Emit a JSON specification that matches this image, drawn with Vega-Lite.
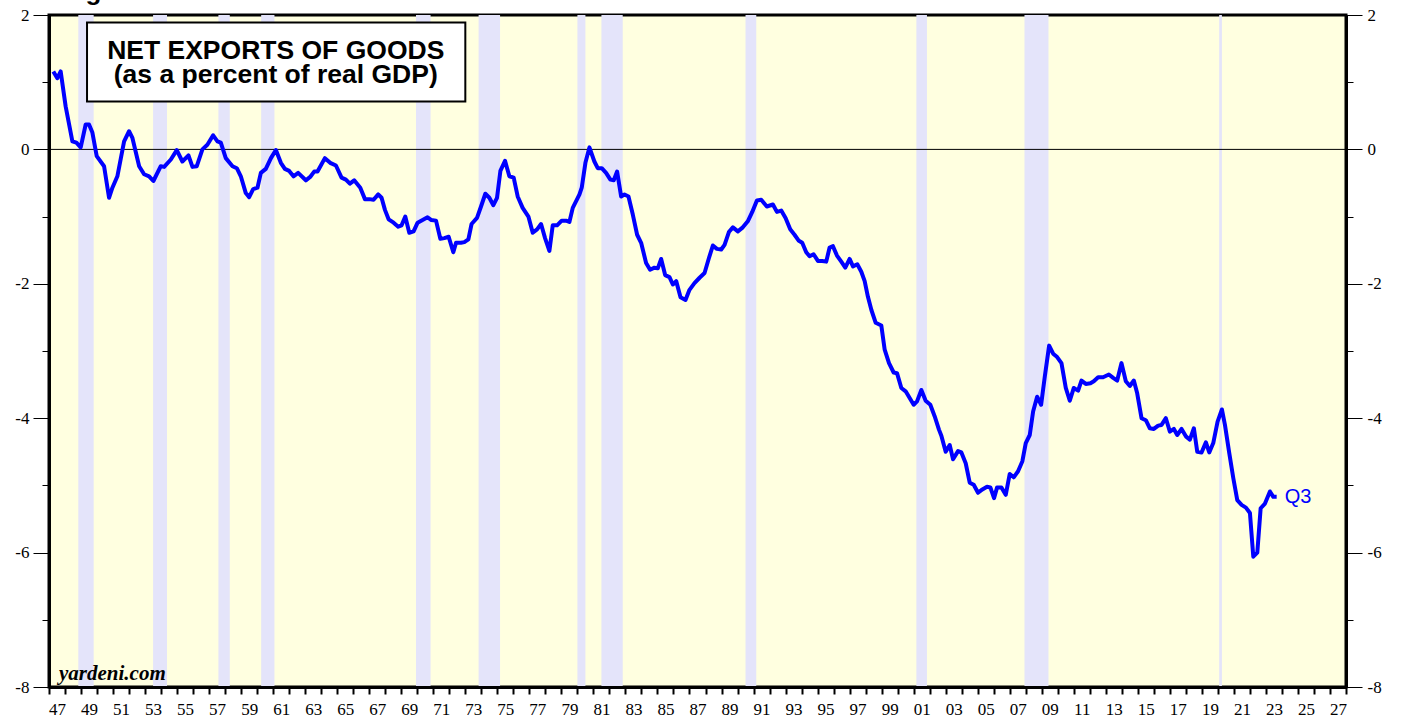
{
  "$schema": "https://vega.github.io/schema/vega-lite/v6.json",
  "autosize": "none",
  "width": 1297,
  "height": 672,
  "padding": {"left": 49, "top": 15, "right": 59, "bottom": 32},
  "background": "white",
  "config": {
    "view": {"fill": "#ffffe0", "stroke": "black", "strokeWidth": 3}
  },
  "datasets": {
    "rec": [
      {"s": 1948.83, "e": 1949.79},
      {"s": 1953.5, "e": 1954.37},
      {"s": 1957.58, "e": 1958.29},
      {"s": 1960.25, "e": 1961.08},
      {"s": 1969.92, "e": 1970.83},
      {"s": 1973.83, "e": 1975.17},
      {"s": 1980.0, "e": 1980.5},
      {"s": 1981.5, "e": 1982.83},
      {"s": 1990.5, "e": 1991.17},
      {"s": 2001.17, "e": 2001.83},
      {"s": 2007.92, "e": 2009.42},
      {"s": 2020.08, "e": 2020.25}
    ],
    "nx": [
      {"t": 1947.27, "v": 1.16}, {"t": 1947.52, "v": 1.06}, {"t": 1947.73, "v": 1.16}, {"t": 1948.04, "v": 0.64},
      {"t": 1948.46, "v": 0.12}, {"t": 1948.71, "v": 0.1}, {"t": 1948.98, "v": 0.03}, {"t": 1949.29, "v": 0.37},
      {"t": 1949.5, "v": 0.37}, {"t": 1949.71, "v": 0.25}, {"t": 1949.98, "v": -0.1}, {"t": 1950.44, "v": -0.25},
      {"t": 1950.75, "v": -0.72}, {"t": 1950.96, "v": -0.57}, {"t": 1951.27, "v": -0.4}, {"t": 1951.69, "v": 0.12},
      {"t": 1952.0, "v": 0.27}, {"t": 1952.21, "v": 0.17}, {"t": 1952.63, "v": -0.25}, {"t": 1952.94, "v": -0.37},
      {"t": 1953.25, "v": -0.4}, {"t": 1953.52, "v": -0.47}, {"t": 1953.98, "v": -0.25}, {"t": 1954.19, "v": -0.26},
      {"t": 1954.61, "v": -0.15}, {"t": 1954.98, "v": -0.01}, {"t": 1955.33, "v": -0.18}, {"t": 1955.71, "v": -0.09},
      {"t": 1955.96, "v": -0.26}, {"t": 1956.23, "v": -0.25}, {"t": 1956.58, "v": 0.0}, {"t": 1956.89, "v": 0.07},
      {"t": 1957.25, "v": 0.21}, {"t": 1957.52, "v": 0.12}, {"t": 1957.73, "v": 0.1}, {"t": 1958.04, "v": -0.13},
      {"t": 1958.46, "v": -0.25}, {"t": 1958.73, "v": -0.28}, {"t": 1958.98, "v": -0.4}, {"t": 1959.29, "v": -0.65},
      {"t": 1959.5, "v": -0.71}, {"t": 1959.75, "v": -0.59}, {"t": 1960.02, "v": -0.57}, {"t": 1960.23, "v": -0.35},
      {"t": 1960.54, "v": -0.29}, {"t": 1960.86, "v": -0.13}, {"t": 1961.17, "v": -0.01}, {"t": 1961.48, "v": -0.2},
      {"t": 1961.73, "v": -0.29}, {"t": 1962.0, "v": -0.32}, {"t": 1962.27, "v": -0.4}, {"t": 1962.56, "v": -0.35},
      {"t": 1963.04, "v": -0.46}, {"t": 1963.31, "v": -0.41}, {"t": 1963.56, "v": -0.33}, {"t": 1963.77, "v": -0.33},
      {"t": 1964.23, "v": -0.13}, {"t": 1964.56, "v": -0.2}, {"t": 1964.92, "v": -0.24}, {"t": 1965.27, "v": -0.42},
      {"t": 1965.54, "v": -0.45}, {"t": 1965.79, "v": -0.51}, {"t": 1966.06, "v": -0.46}, {"t": 1966.44, "v": -0.57},
      {"t": 1966.73, "v": -0.74}, {"t": 1967.0, "v": -0.74}, {"t": 1967.27, "v": -0.75}, {"t": 1967.56, "v": -0.67},
      {"t": 1967.77, "v": -0.72}, {"t": 1967.98, "v": -0.9}, {"t": 1968.21, "v": -1.04}, {"t": 1968.52, "v": -1.09},
      {"t": 1968.81, "v": -1.15}, {"t": 1969.02, "v": -1.13}, {"t": 1969.25, "v": -1.0}, {"t": 1969.5, "v": -1.24},
      {"t": 1969.77, "v": -1.22}, {"t": 1970.02, "v": -1.09}, {"t": 1970.33, "v": -1.05}, {"t": 1970.64, "v": -1.01},
      {"t": 1970.86, "v": -1.05}, {"t": 1971.17, "v": -1.06}, {"t": 1971.44, "v": -1.33}, {"t": 1971.69, "v": -1.32},
      {"t": 1971.96, "v": -1.3}, {"t": 1972.25, "v": -1.53}, {"t": 1972.42, "v": -1.39}, {"t": 1972.73, "v": -1.39},
      {"t": 1972.94, "v": -1.38}, {"t": 1973.19, "v": -1.34}, {"t": 1973.39, "v": -1.11}, {"t": 1973.73, "v": -1.02},
      {"t": 1973.98, "v": -0.85}, {"t": 1974.25, "v": -0.66}, {"t": 1974.5, "v": -0.72}, {"t": 1974.75, "v": -0.83},
      {"t": 1974.98, "v": -0.72}, {"t": 1975.19, "v": -0.32}, {"t": 1975.48, "v": -0.17}, {"t": 1975.75, "v": -0.4},
      {"t": 1976.02, "v": -0.42}, {"t": 1976.27, "v": -0.7}, {"t": 1976.58, "v": -0.87}, {"t": 1976.94, "v": -1.0},
      {"t": 1977.21, "v": -1.24}, {"t": 1977.48, "v": -1.19}, {"t": 1977.73, "v": -1.11}, {"t": 1977.98, "v": -1.32},
      {"t": 1978.25, "v": -1.51}, {"t": 1978.46, "v": -1.13}, {"t": 1978.73, "v": -1.13}, {"t": 1979.02, "v": -1.06},
      {"t": 1979.29, "v": -1.06}, {"t": 1979.5, "v": -1.08}, {"t": 1979.71, "v": -0.87}, {"t": 1980.13, "v": -0.67},
      {"t": 1980.27, "v": -0.57}, {"t": 1980.5, "v": -0.2}, {"t": 1980.75, "v": 0.03}, {"t": 1981.06, "v": -0.18},
      {"t": 1981.27, "v": -0.28}, {"t": 1981.52, "v": -0.28}, {"t": 1981.79, "v": -0.35}, {"t": 1982.06, "v": -0.45},
      {"t": 1982.27, "v": -0.46}, {"t": 1982.48, "v": -0.33}, {"t": 1982.73, "v": -0.7}, {"t": 1982.94, "v": -0.67},
      {"t": 1983.19, "v": -0.7}, {"t": 1983.46, "v": -0.97}, {"t": 1983.73, "v": -1.27}, {"t": 1983.98, "v": -1.39},
      {"t": 1984.29, "v": -1.69}, {"t": 1984.54, "v": -1.79}, {"t": 1984.81, "v": -1.76}, {"t": 1985.02, "v": -1.77},
      {"t": 1985.23, "v": -1.63}, {"t": 1985.48, "v": -1.87}, {"t": 1985.75, "v": -1.9}, {"t": 1985.96, "v": -2.01},
      {"t": 1986.17, "v": -1.96}, {"t": 1986.44, "v": -2.2}, {"t": 1986.75, "v": -2.24}, {"t": 1987.0, "v": -2.09},
      {"t": 1987.31, "v": -1.99}, {"t": 1987.63, "v": -1.91}, {"t": 1987.94, "v": -1.84}, {"t": 1988.21, "v": -1.62},
      {"t": 1988.46, "v": -1.43}, {"t": 1988.71, "v": -1.48}, {"t": 1988.98, "v": -1.49}, {"t": 1989.19, "v": -1.42},
      {"t": 1989.46, "v": -1.23}, {"t": 1989.71, "v": -1.16}, {"t": 1990.02, "v": -1.22}, {"t": 1990.33, "v": -1.16},
      {"t": 1990.64, "v": -1.07}, {"t": 1990.92, "v": -0.93}, {"t": 1991.21, "v": -0.76}, {"t": 1991.48, "v": -0.75},
      {"t": 1991.83, "v": -0.85}, {"t": 1992.21, "v": -0.82}, {"t": 1992.46, "v": -0.93}, {"t": 1992.73, "v": -0.91},
      {"t": 1993.0, "v": -1.02}, {"t": 1993.29, "v": -1.19}, {"t": 1993.56, "v": -1.27}, {"t": 1993.83, "v": -1.36},
      {"t": 1994.04, "v": -1.39}, {"t": 1994.29, "v": -1.53}, {"t": 1994.5, "v": -1.59}, {"t": 1994.75, "v": -1.56},
      {"t": 1995.02, "v": -1.66}, {"t": 1995.29, "v": -1.66}, {"t": 1995.54, "v": -1.67}, {"t": 1995.75, "v": -1.46},
      {"t": 1995.96, "v": -1.44}, {"t": 1996.21, "v": -1.58}, {"t": 1996.48, "v": -1.67}, {"t": 1996.73, "v": -1.76},
      {"t": 1997.0, "v": -1.63}, {"t": 1997.21, "v": -1.74}, {"t": 1997.48, "v": -1.71}, {"t": 1997.73, "v": -1.82},
      {"t": 1997.94, "v": -1.96}, {"t": 1998.14, "v": -2.19}, {"t": 1998.36, "v": -2.39}, {"t": 1998.63, "v": -2.58},
      {"t": 1998.98, "v": -2.62}, {"t": 1999.19, "v": -2.98}, {"t": 1999.46, "v": -3.18}, {"t": 1999.75, "v": -3.32},
      {"t": 1999.96, "v": -3.33}, {"t": 2000.23, "v": -3.55}, {"t": 2000.5, "v": -3.6}, {"t": 2000.75, "v": -3.7},
      {"t": 2001.0, "v": -3.8}, {"t": 2001.21, "v": -3.75}, {"t": 2001.48, "v": -3.58}, {"t": 2001.75, "v": -3.74},
      {"t": 2002.04, "v": -3.8}, {"t": 2002.31, "v": -3.97}, {"t": 2002.58, "v": -4.17}, {"t": 2002.73, "v": -4.26},
      {"t": 2003.0, "v": -4.5}, {"t": 2003.25, "v": -4.4}, {"t": 2003.46, "v": -4.61}, {"t": 2003.77, "v": -4.49},
      {"t": 2003.98, "v": -4.51}, {"t": 2004.25, "v": -4.67}, {"t": 2004.5, "v": -4.96}, {"t": 2004.75, "v": -4.99},
      {"t": 2005.02, "v": -5.11}, {"t": 2005.29, "v": -5.06}, {"t": 2005.58, "v": -5.02}, {"t": 2005.79, "v": -5.03},
      {"t": 2006.02, "v": -5.19}, {"t": 2006.21, "v": -5.03}, {"t": 2006.48, "v": -5.03}, {"t": 2006.75, "v": -5.14},
      {"t": 2007.0, "v": -4.83}, {"t": 2007.25, "v": -4.88}, {"t": 2007.52, "v": -4.79}, {"t": 2007.79, "v": -4.64},
      {"t": 2008.0, "v": -4.37}, {"t": 2008.25, "v": -4.25}, {"t": 2008.46, "v": -3.9}, {"t": 2008.71, "v": -3.68},
      {"t": 2008.96, "v": -3.8}, {"t": 2009.19, "v": -3.38}, {"t": 2009.46, "v": -2.92}, {"t": 2009.71, "v": -3.04},
      {"t": 2009.96, "v": -3.09}, {"t": 2010.23, "v": -3.18}, {"t": 2010.5, "v": -3.55}, {"t": 2010.75, "v": -3.74},
      {"t": 2011.0, "v": -3.55}, {"t": 2011.27, "v": -3.59}, {"t": 2011.48, "v": -3.44}, {"t": 2011.75, "v": -3.49},
      {"t": 2012.04, "v": -3.48}, {"t": 2012.25, "v": -3.45}, {"t": 2012.52, "v": -3.39}, {"t": 2012.83, "v": -3.39},
      {"t": 2013.19, "v": -3.35}, {"t": 2013.46, "v": -3.4}, {"t": 2013.71, "v": -3.44}, {"t": 2013.98, "v": -3.18},
      {"t": 2014.25, "v": -3.45}, {"t": 2014.5, "v": -3.52}, {"t": 2014.75, "v": -3.44}, {"t": 2014.96, "v": -3.63},
      {"t": 2015.23, "v": -4.0}, {"t": 2015.5, "v": -4.03}, {"t": 2015.75, "v": -4.15}, {"t": 2016.0, "v": -4.16},
      {"t": 2016.27, "v": -4.11}, {"t": 2016.48, "v": -4.1}, {"t": 2016.75, "v": -4.0}, {"t": 2017.0, "v": -4.2},
      {"t": 2017.25, "v": -4.16}, {"t": 2017.46, "v": -4.25}, {"t": 2017.73, "v": -4.16}, {"t": 2018.0, "v": -4.27},
      {"t": 2018.25, "v": -4.32}, {"t": 2018.5, "v": -4.15}, {"t": 2018.71, "v": -4.5}, {"t": 2018.98, "v": -4.51},
      {"t": 2019.25, "v": -4.36}, {"t": 2019.46, "v": -4.51}, {"t": 2019.71, "v": -4.37}, {"t": 2019.98, "v": -4.05},
      {"t": 2020.25, "v": -3.87}, {"t": 2020.44, "v": -4.1}, {"t": 2020.71, "v": -4.52}, {"t": 2020.96, "v": -4.89},
      {"t": 2021.21, "v": -5.22}, {"t": 2021.48, "v": -5.29}, {"t": 2021.75, "v": -5.33}, {"t": 2022.0, "v": -5.41},
      {"t": 2022.21, "v": -6.06}, {"t": 2022.46, "v": -6.0}, {"t": 2022.67, "v": -5.34}, {"t": 2022.94, "v": -5.27},
      {"t": 2023.25, "v": -5.09}, {"t": 2023.46, "v": -5.17}, {"t": 2023.67, "v": -5.17}
    ],
    "box": [{"x1": 1949.375, "x2": 1973.0, "y1": 1.888, "y2": 0.712}],
    "boxtext": [
      {"t": 1961.16, "v": 1.352, "label": "NET EXPORTS OF GOODS"},
      {"t": 1961.16, "v": 0.99, "label": "(as a percent of real GDP)"}
    ],
    "credit": [{"t": 1947.625, "v": -7.896, "label": "yardeni.com"}],
    "fig": [{"t": 1947.84, "v": 2.216, "label": "Figure 3."}],
    "last": [{"t": 2023.67, "v": -5.17, "label": "Q3"}]
  },
  "layer": [
    {
      "data": {"name": "rec"},
      "mark": {"type": "rect", "color": "#e4e4fa"},
      "encoding": {
        "x": {"field": "s", "type": "quantitative", "scale": {"domain": [1947, 2028], "nice": false, "zero": false},
          "axis": {"orient": "bottom", "values": [1947,1948,1949,1950,1951,1952,1953,1954,1955,1956,1957,1958,1959,1960,1961,1962,1963,1964,1965,1966,1967,1968,1969,1970,1971,1972,1973,1974,1975,1976,1977,1978,1979,1980,1981,1982,1983,1984,1985,1986,1987,1988,1989,1990,1991,1992,1993,1994,1995,1996,1997,1998,1999,2000,2001,2002,2003,2004,2005,2006,2007,2008,2009,2010,2011,2012,2013,2014,2015,2016,2017,2018,2019,2020,2021,2022,2023,2024,2025,2026,2027,2028],
            "title": null, "grid": false, "domain": true, "domainColor": "black", "domainWidth": 3, "zindex": 1,
            "tickColor": "black", "tickWidth": 2, "tickSize": 7,
            "labelExpr": "datum.value % 2 == 1 ? slice(toString(datum.value), 2) : ''",
            "labelOffset": 8, "labelFont": "Liberation Serif", "labelFontSize": 17, "labelColor": "black", "labelPadding": 7,
            "labelOverlap": false, "labelFlush": false, "labelBound": false}},
        "x2": {"field": "e"},
        "y": {"datum": 2, "type": "quantitative", "scale": {"domain": [-8, 2], "nice": false, "zero": false}, "axis": null},
        "y2": {"datum": -8}
      }
    },
    {
      "data": {"values": [{}]},
      "mark": {"type": "rule", "color": "black", "strokeWidth": 1},
      "encoding": {
        "y": {"datum": 0, "type": "quantitative", "scale": {"domain": [-8, 2], "nice": false, "zero": false},
          "axis": {"orient": "right", "values": [-8, -7, -6, -5, -4, -3, -2, -1, 0, 1, 2], "title": null, "grid": false,
            "domain": true, "domainColor": "black", "domainWidth": 3, "zindex": 1,
            "tickColor": "black", "tickWidth": 1,
            "tickSize": {"condition": {"test": "datum.value % 2 == 0", "value": 16}, "value": 7},
            "labelExpr": "datum.value % 2 == 0 ? toString(datum.value) : ''",
            "labelFont": "Liberation Serif", "labelFontSize": 17, "labelColor": "black", "labelPadding": 5,
            "labelOverlap": false, "labelFlush": false, "labelBound": false}}
      }
    },
    {
      "data": {"name": "nx"},
      "mark": {"type": "line", "color": "#0000ff", "strokeWidth": 4, "strokeJoin": "round"},
      "encoding": {
        "x": {"field": "t", "type": "quantitative", "axis": null},
        "y": {"field": "v", "type": "quantitative", "scale": {"domain": [-8, 2], "nice": false, "zero": false},
          "axis": {"orient": "left", "values": [-8, -7, -6, -5, -4, -3, -2, -1, 0, 1, 2], "title": null, "grid": false,
            "domain": true, "domainColor": "black", "domainWidth": 3, "zindex": 1,
            "tickColor": "black", "tickWidth": 1,
            "tickSize": {"condition": {"test": "datum.value % 2 == 0", "value": 16}, "value": 7},
            "labelExpr": "datum.value % 2 == 0 ? toString(datum.value) : ''",
            "labelFont": "Liberation Serif", "labelFontSize": 17, "labelColor": "black", "labelPadding": 4,
            "labelOverlap": false, "labelFlush": false, "labelBound": false}}
      }
    },
    {
      "data": {"name": "last"},
      "mark": {"type": "text", "align": "left", "baseline": "middle", "dx": 8, "font": "Liberation Sans", "fontSize": 20, "color": "#0000ff"},
      "encoding": {
        "x": {"field": "t", "type": "quantitative", "axis": null},
        "y": {"field": "v", "type": "quantitative", "axis": null},
        "text": {"field": "label"}
      }
    },
    {
      "data": {"name": "box"},
      "mark": {"type": "rect", "fill": "white", "stroke": "black", "strokeWidth": 2},
      "encoding": {
        "x": {"field": "x1", "type": "quantitative", "axis": null},
        "x2": {"field": "x2"},
        "y": {"field": "y1", "type": "quantitative", "axis": null},
        "y2": {"field": "y2"}
      }
    },
    {
      "data": {"name": "boxtext"},
      "mark": {"type": "text", "align": "center", "baseline": "alphabetic", "font": "Liberation Sans", "fontSize": 26.5, "fontWeight": "bold", "color": "black"},
      "encoding": {
        "x": {"field": "t", "type": "quantitative", "axis": null},
        "y": {"field": "v", "type": "quantitative", "axis": null},
        "text": {"field": "label"}
      }
    },
    {
      "data": {"name": "credit"},
      "mark": {"type": "text", "align": "left", "baseline": "alphabetic", "font": "Liberation Serif", "fontSize": 21, "fontWeight": "bold", "fontStyle": "italic", "color": "black"},
      "encoding": {
        "x": {"field": "t", "type": "quantitative", "axis": null},
        "y": {"field": "v", "type": "quantitative", "axis": null},
        "text": {"field": "label"}
      }
    },
    {
      "data": {"name": "fig"},
      "mark": {"type": "text", "align": "left", "baseline": "alphabetic", "font": "Liberation Sans", "fontSize": 26, "fontWeight": "bold", "color": "black", "clip": false},
      "encoding": {
        "x": {"field": "t", "type": "quantitative", "axis": null},
        "y": {"field": "v", "type": "quantitative", "axis": null},
        "text": {"field": "label"}
      }
    }
  ],
  "resolve": {"axis": {"x": "independent", "y": "independent"}}
}
